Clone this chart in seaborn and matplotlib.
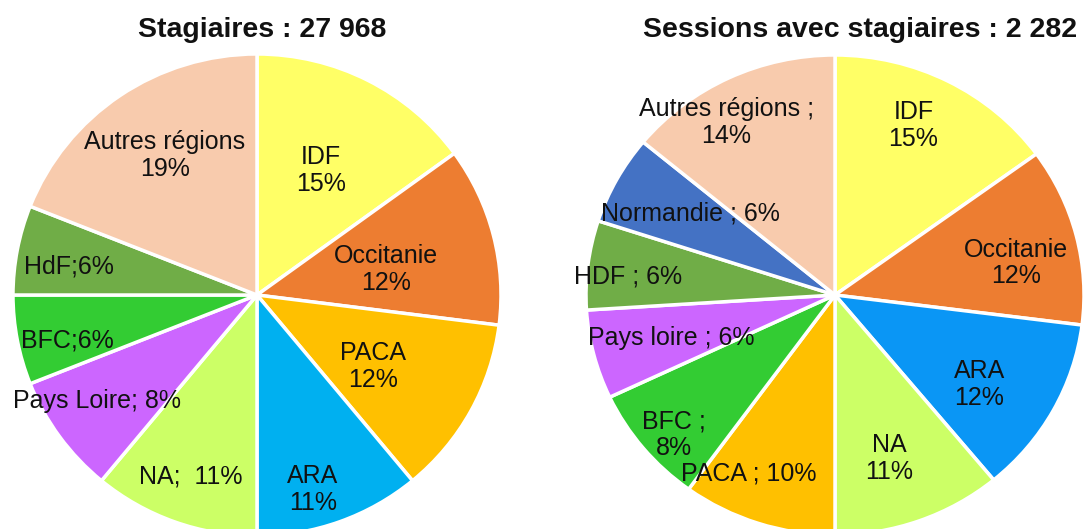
import matplotlib
matplotlib.use("Agg")
import matplotlib.pyplot as plt
import seaborn as sns
import numpy as np

# ---------------- data ----------------
left_title = "Stagiaires : 27 968"
left_regions = ["IDF", "Occitanie", "PACA", "ARA", "NA", "Pays Loire", "BFC", "HdF", "Autres régions"]
left_values = [15, 12, 12, 11, 11, 8, 6, 6, 19]
left_seps = ["\n", "\n", "\n", "\n", ";  ", "; ", ";", ";", "\n"]

right_title = "Sessions avec stagiaires : 2 282"
right_regions = ["IDF", "Occitanie", "ARA", "NA", "PACA", "BFC", "Pays loire", "HDF", "Normandie", "Autres régions"]
right_values = [15, 12, 12, 11, 10, 8, 6, 6, 6, 14]
right_seps = ["\n", "\n", "\n", "\n", " ; ", " ;\n", " ; ", " ; ", " ; ", " ;\n"]

# ---------------- style ----------------
region_colors = {
    "IDF": "#FFFF66", "Occitanie": "#ED7D31", "PACA": "#FFC000",
    "ARA_L": "#00B0F0", "ARA_R": "#0A96F5", "NA": "#CCFF66",
    "Pays Loire": "#CC66FF", "Pays loire": "#CC66FF", "BFC": "#33CC33",
    "HdF": "#70AD47", "HDF": "#70AD47", "Normandie": "#4472C4",
    "Autres régions": "#F8CBAD",
}
left_colors = [region_colors["ARA_L"] if r == "ARA" else region_colors[r] for r in left_regions]
right_colors = [region_colors["ARA_R"] if r == "ARA" else region_colors[r] for r in right_regions]

# label layout (radius fraction, angular offset in degrees)
left_label_r = [0.58, 0.54, 0.56, 0.84, 0.80, 0.79, 0.80, 0.78, 0.69]
left_label_da = [0, -3, -3, -4, 0, -2, 3, 2, -1]
right_label_r = [0.774, 0.74, 0.69, 0.714, 0.82, 0.871, 0.683, 0.835, 0.675, 0.84]
right_label_da = [3, -4, -4, -2, -7, 2.4, 0.8, 1.8, -1.6, 6.2]

sns.set_theme(style="white")
plt.rcParams["font.family"] = ["Liberation Sans", "DejaVu Sans"]

W, H = 1087, 529
fig = plt.figure(figsize=(W / 100, H / 100), dpi=100)
fig.patch.set_facecolor("white")


def draw_pie(cx, cy, rx, ry, values, regions, seps, colors, lr, lda):
    ax = fig.add_axes([(cx - rx) / W, (H - cy - ry) / H, 2 * rx / W, 2 * ry / H])
    wedges, _ = ax.pie(values, colors=colors, startangle=90, counterclock=False,
                       radius=1.0,
                       wedgeprops=dict(edgecolor="white", linewidth=2.5))
    ax.set_xlim(-1, 1)
    ax.set_ylim(-1, 1)
    ax.set_aspect("auto")
    ax.axis("off")
    for w, reg, v, sep, d, da in zip(wedges, regions, values, seps, lr, lda):
        ang = np.deg2rad((w.theta1 + w.theta2) / 2 + da)
        ax.text(d * np.cos(ang), d * np.sin(ang), f"{reg}{sep}{v}%",
                ha="center", va="center", multialignment="center",
                fontsize=18, color="#111111", linespacing=1.15)
    return ax


draw_pie(257, 295, 244, 241, left_values, left_regions, left_seps, left_colors,
         left_label_r, left_label_da)
draw_pie(835, 295, 249, 240, right_values, right_regions, right_seps, right_colors,
         right_label_r, right_label_da)

fig.text(262 / W, 1 - 30 / H, left_title, ha="center", va="center",
         fontsize=20.5, fontweight="bold", color="#111111")
fig.text(860 / W, 1 - 30 / H, right_title, ha="center", va="center",
         fontsize=20.5, fontweight="bold", color="#111111")

fig.savefig("out.png", dpi=100, facecolor="white")
